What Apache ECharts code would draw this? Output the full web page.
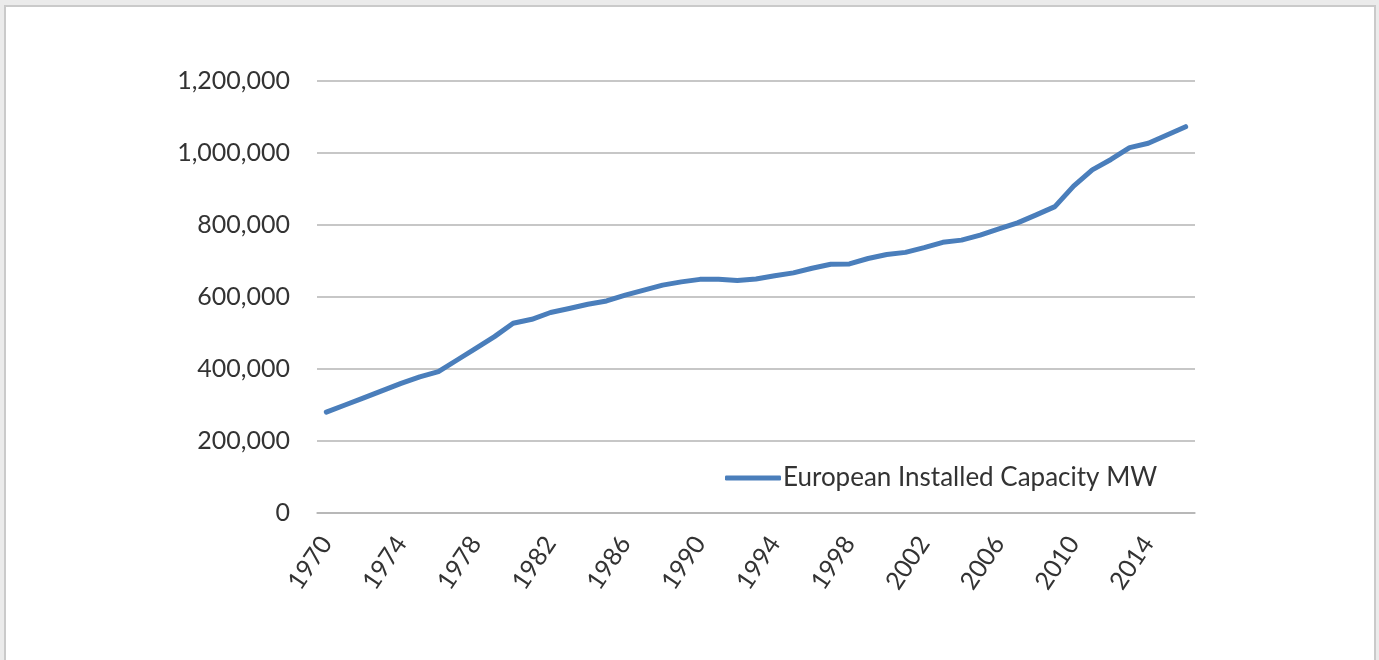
<!DOCTYPE html>
<html>
<head>
<meta charset="utf-8">
<script src="https://cdn.jsdelivr.net/npm/echarts@6/dist/echarts.min.js"></script>
<style>
  html, body { margin: 0; padding: 0; background: #ebebeb; width: 1379px; height: 660px; overflow: hidden; }
  #frame { position: absolute; left: 4px; top: 5px; width: 1368px; height: 700px; background: #ffffff; border: 2px solid #cacaca; }
  #chart { position: absolute; left: 0; top: 0; width: 1379px; height: 660px; }
</style>
</head>
<body>
<div id="frame"></div>
<div id="chart"></div>
<script>
const years = [];
for (let y = 1970; y <= 2016; y++) years.push(String(y));

const seriesName = 'European Installed Capacity MW';
const capacityMW = [
  280000, 300000, 320000, 340000, 360000, 378000, 392500, 425000, 457000, 490000,
  527000, 538000, 557000, 568000, 580000, 589000, 605000, 619000, 633000, 642000,
  649000, 649000, 646000, 650000, 659000, 667000, 680000, 691000, 692000, 707000,
  718000, 724000, 737000, 752000, 758000, 772000, 789000, 806000, 828000, 851000,
  908000, 953000, 982000, 1015000, 1027000, 1050000, 1073000
];

const yTicks = [0, 200000, 400000, 600000, 800000, 1000000, 1200000];

const chart = echarts.init(document.getElementById('chart'), null, { renderer: 'canvas' });
const font = 'Lato, "Open Sans", sans-serif';
chart.setOption({
  backgroundColor: 'transparent',
  animation: false,
  textStyle: { fontFamily: font },
  grid: { left: 317, right: 184, top: 81, bottom: 147, containLabel: false },
  legend: {
    show: true,
    left: 720,
    top: 460,
    icon: 'roundRect',
    itemWidth: 56,
    itemHeight: 5,
    textStyle: { fontFamily: font, fontSize: 26, color: '#333333', padding: [0, 0, 0, -3] },
    data: [seriesName]
  },
  xAxis: {
    type: 'category',
    data: years,
    boundaryGap: true,
    axisLine: { show: true, lineStyle: { color: '#b4b4b4', width: 1.5 } },
    axisTick: { show: false },
    axisLabel: {
      interval: 3,
      rotate: 56,
      margin: 26,
      fontFamily: font,
      fontSize: 25,
      color: '#333333'
    }
  },
  yAxis: {
    type: 'value',
    min: yTicks[0],
    max: yTicks[yTicks.length - 1],
    interval: 200000,
    axisLine: { show: false },
    axisTick: { show: false },
    splitLine: { show: true, lineStyle: { color: '#b4b4b4', width: 1.5 } },
    axisLabel: {
      margin: 27,
      fontFamily: font,
      fontSize: 25,
      color: '#333333',
      formatter: v => v.toLocaleString('en-US')
    }
  },
  series: [{
    name: seriesName,
    type: 'line',
    data: capacityMW,
    symbol: 'none',
    smooth: false,
    lineStyle: { color: '#4a7ebb', width: 5, cap: 'round', join: 'round' },
    itemStyle: { color: '#4a7ebb' }
  }]
});
</script>
</body>
</html>
